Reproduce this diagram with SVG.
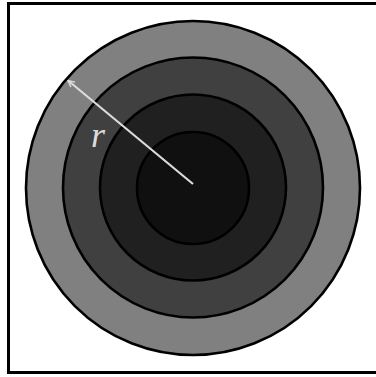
<svg xmlns="http://www.w3.org/2000/svg" width="376" height="377" viewBox="0 0 376 377">
<style>
.ring{stroke:#000;stroke-width:2.6}
.lbl{font-family:"Liberation Serif",serif;font-style:italic;font-size:36px;fill:#dcdcdc}
</style>
<defs>
<marker id="ah" viewBox="0 0 10 10" refX="9" refY="5" markerWidth="8" markerHeight="8" markerUnits="userSpaceOnUse" orient="auto">
<path d="M1,1 L9,5 L1,9" fill="none" stroke="#dcdcdc" stroke-width="1.8"/>
</marker>
</defs>
<rect x="8.5" y="3.5" width="372" height="369" fill="#fff" stroke="#000" stroke-width="3"/>
<g id="ring1"><circle class="ring" cx="193" cy="188" r="167" fill="#808080"/></g>
<g id="ring2"><circle class="ring" cx="193" cy="187.5" r="130" fill="#404040"/></g>
<g id="ring3"><circle class="ring" cx="193" cy="187.5" r="93" fill="#202020"/></g>
<g id="ring4"><circle class="ring" cx="193" cy="188" r="56" fill="#101010"/></g>
<g id="connectors">
<line x1="193" y1="184" x2="68" y2="80.5" stroke="#dcdcdc" stroke-width="2.2" marker-end="url(#ah)"/>
</g>
<text class="lbl" x="91" y="146.5">r</text>
</svg>
